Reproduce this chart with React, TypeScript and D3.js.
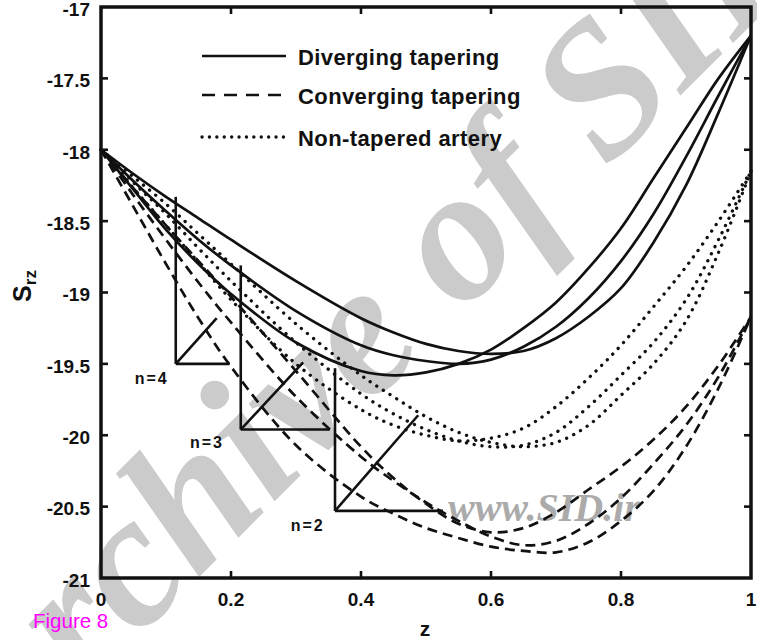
import React from 'react';
import * as d3 from 'd3';

// Axial position along the artery
const zGrid = [0, 0.05, 0.1, 0.15, 0.2, 0.3, 0.4, 0.45, 0.5, 0.55, 0.6, 0.65, 0.7, 0.75, 0.8, 0.85, 0.9, 0.95, 1];

// Shear stress S_rz, diverging tapering
const divergingUpper = [-18.0, -18.17, -18.33, -18.48, -18.63, -18.92, -19.18, -19.28, -19.36, -19.41, -19.43, -19.41, -19.32, -19.17, -18.97, -18.65, -18.25, -17.74, -17.2];
const divergingMiddle = [-18.0, -18.22, -18.43, -18.63, -18.81, -19.13, -19.37, -19.44, -19.48, -19.5, -19.47, -19.38, -19.24, -19.04, -18.78, -18.45, -18.05, -17.62, -17.2];
const divergingLower = [-18.0, -18.28, -18.56, -18.8, -19.01, -19.35, -19.55, -19.58, -19.56, -19.5, -19.4, -19.25, -19.07, -18.83, -18.55, -18.2, -17.85, -17.5, -17.2];

// Non-tapered artery
const nonTaperedUpper = [-18.0, -18.19, -18.38, -18.59, -18.8, -19.22, -19.58, -19.73, -19.87, -19.98, -20.05, -20.08, -20.05, -19.93, -19.72, -19.5, -19.2, -18.72, -18.15];
const nonTaperedMiddle = [-18.0, -18.23, -18.45, -18.69, -18.92, -19.35, -19.71, -19.85, -19.96, -20.04, -20.08, -20.07, -19.98, -19.8, -19.58, -19.35, -19.05, -18.63, -18.15];
const nonTaperedLower = [-18.0, -18.27, -18.53, -18.79, -19.05, -19.5, -19.82, -19.93, -20.0, -20.04, -20.02, -19.95, -19.8, -19.6, -19.37, -19.1, -18.82, -18.5, -18.15];

// Converging tapering
const convergingUpper = [-18.0, -18.27, -18.53, -18.78, -19.03, -19.55, -20.08, -20.3, -20.48, -20.62, -20.68, -20.65, -20.54, -20.38, -20.22, -20.03, -19.8, -19.51, -19.17];
const convergingMiddle = [-18.0, -18.32, -18.63, -18.93, -19.21, -19.73, -20.15, -20.32, -20.47, -20.6, -20.71, -20.77, -20.74, -20.62, -20.44, -20.2, -19.93, -19.59, -19.17];
const convergingLower = [-18.0, -18.4, -18.8, -19.18, -19.52, -20.07, -20.43, -20.55, -20.65, -20.72, -20.78, -20.81, -20.82, -20.75, -20.6, -20.39, -20.08, -19.67, -19.17];

const xTicks = [0, 0.2, 0.4, 0.6, 0.8, 1];
const xTickLabels = ['0', '0.2', '0.4', '0.6', '0.8', '1'];
const yTicks = [-17, -17.5, -18, -18.5, -19, -19.5, -20, -20.5, -21];
const yTickLabels = ['-17', '-17.5', '-18', '-18.5', '-19', '-19.5', '-20', '-20.5', '-21'];

const legendLabels = ['Diverging tapering', 'Converging tapering', 'Non-tapered artery'];

// Power-law index markers (bracket + arrow)
const markerText = ['n=4', 'n=3', 'n=2'];
const markerZ = [0.115, 0.215, 0.36];
const markerTop = [-18.33, -18.81, -19.53];
const markerBottom = [-19.5, -19.96, -20.53];
const markerFootEnd = [0.198, 0.352, 0.526];
const markerTipZ = [0.178, 0.311, 0.488];
const markerTipV = [-19.18, -19.49, -19.86];
const markerLabelZ = [0.078, 0.163, 0.318];
const markerLabelV = [-19.6, -20.05, -20.63];

const W = 757;
const H = 640;
const M = { left: 101, right: 751, top: 7, bottom: 578 };
const FONT = '"Liberation Sans", Arial, Helvetica, sans-serif';

export default function App() {
  const x = d3.scaleLinear().domain([0, 1]).range([M.left, M.right]);
  const y = d3.scaleLinear().domain([-21, -17]).range([M.bottom, M.top]);

  const line = d3
    .line<number>()
    .x((_, i) => x(zGrid[i]))
    .y((d) => y(d))
    .curve(d3.curveCatmullRom.alpha(0.5));

  const solid = { stroke: '#111', strokeWidth: 2.7, fill: 'none' };
  const dashed = { ...solid, strokeDasharray: '10 6' };
  const dotted = { ...solid, strokeWidth: 3.3, strokeDasharray: '0.1 7.8', strokeLinecap: 'round' as const };

  const series = [
    { data: divergingUpper, style: solid },
    { data: divergingMiddle, style: solid },
    { data: divergingLower, style: solid },
    { data: nonTaperedUpper, style: dotted },
    { data: nonTaperedMiddle, style: dotted },
    { data: nonTaperedLower, style: dotted },
    { data: convergingUpper, style: dashed },
    { data: convergingMiddle, style: dashed },
    { data: convergingLower, style: dashed },
  ];

  const legendStyles = [solid, { ...dashed, strokeDasharray: '13 9' }, { ...dotted, strokeDasharray: '0.1 7.3' }];
  const legendY = [56, 95, 137];
  const tick = 7;

  return (
    <svg width={W} height={H} style={{ position: 'absolute', left: 0, top: 0, background: '#fff' }}>
      <rect x={0} y={0} width={W} height={H} fill="#fff" />
      {/* watermark */}
      <g fontFamily='"Liberation Serif", "Times New Roman", serif' fontStyle="italic" fontWeight="bold">
        <text transform="translate(-5,781) rotate(-45)" fontSize={190} fill="#cbcbcb">
          Archive of SID
        </text>
        <text x={448} y={521} fontSize={40} fill="#ababab">
          www.SID.ir
        </text>
      </g>

      {/* curves */}
      {series.map((s, i) => (
        <path key={i} d={line(s.data) ?? ''} {...s.style} />
      ))}

      {/* n markers */}
      <g stroke="#111" strokeWidth={2.6} fill="none">
        {markerText.map((_, i) => (
          <g key={i}>
            <line x1={x(markerZ[i])} x2={x(markerZ[i])} y1={y(markerTop[i])} y2={y(markerBottom[i])} />
            <line x1={x(markerZ[i])} x2={x(markerFootEnd[i])} y1={y(markerBottom[i])} y2={y(markerBottom[i])} />
            <line x1={x(markerZ[i])} x2={x(markerTipZ[i])} y1={y(markerBottom[i])} y2={y(markerTipV[i])} />
          </g>
        ))}
      </g>
      <g fontFamily={FONT} fontWeight="bold" fontSize={16} fill="#111" textAnchor="middle">
        {markerText.map((t, i) => (
          <text key={i} x={x(markerLabelZ[i])} y={y(markerLabelV[i])} dy="0.36em" letterSpacing={2}>
            {t}
          </text>
        ))}
      </g>

      {/* frame */}
      <rect x={M.left} y={M.top} width={M.right - M.left} height={M.bottom - M.top} fill="none" stroke="#111" strokeWidth={3.5} />

      {/* ticks */}
      <g stroke="#111" strokeWidth={2.6}>
        {xTicks.slice(1, -1).map((t) => (
          <g key={t}>
            <line x1={x(t)} x2={x(t)} y1={M.bottom} y2={M.bottom - tick} />
            <line x1={x(t)} x2={x(t)} y1={M.top} y2={M.top + tick} />
          </g>
        ))}
        {yTicks.slice(1, -1).map((t) => (
          <g key={t}>
            <line x1={M.left} x2={M.left + tick} y1={y(t)} y2={y(t)} />
            <line x1={M.right} x2={M.right - tick} y1={y(t)} y2={y(t)} />
          </g>
        ))}
      </g>

      {/* tick labels */}
      <g fontFamily={FONT} fontWeight="bold" fontSize={19} fill="#111">
        {xTicks.map((t, i) => (
          <text key={t} x={x(t)} y={M.bottom + 21} dy="0.36em" textAnchor="middle">
            {xTickLabels[i]}
          </text>
        ))}
        {yTicks.map((t, i) => (
          <text key={t} x={M.left - 11} y={y(t) + 2} dy="0.36em" textAnchor="end">
            {yTickLabels[i]}
          </text>
        ))}
      </g>

      {/* axis titles */}
      <text x={425} y={628} dy="0.36em" textAnchor="middle" fontFamily={FONT} fontWeight="bold" fontSize={21} fill="#111">
        z
      </text>
      <text transform="translate(31,286) rotate(-90)" textAnchor="middle" fontFamily={FONT} fontWeight="bold" fill="#111">
        <tspan fontSize={25}>S</tspan>
        <tspan fontSize={17} dy={5}>rz</tspan>
      </text>

      {/* legend */}
      {legendLabels.map((lab, i) => (
        <g key={lab}>
          <line x1={202} x2={286} y1={legendY[i]} y2={legendY[i]} {...legendStyles[i]} />
          <text x={298} y={legendY[i] + 9} fontFamily={FONT} fontWeight="bold" fontSize={22} letterSpacing={0.4} fill="#111">
            {lab}
          </text>
        </g>
      ))}

      <text x={33} y={628} fontFamily={FONT} fontSize={20.5} fill="#ff00ff">
        Figure 8
      </text>
    </svg>
  );
}
